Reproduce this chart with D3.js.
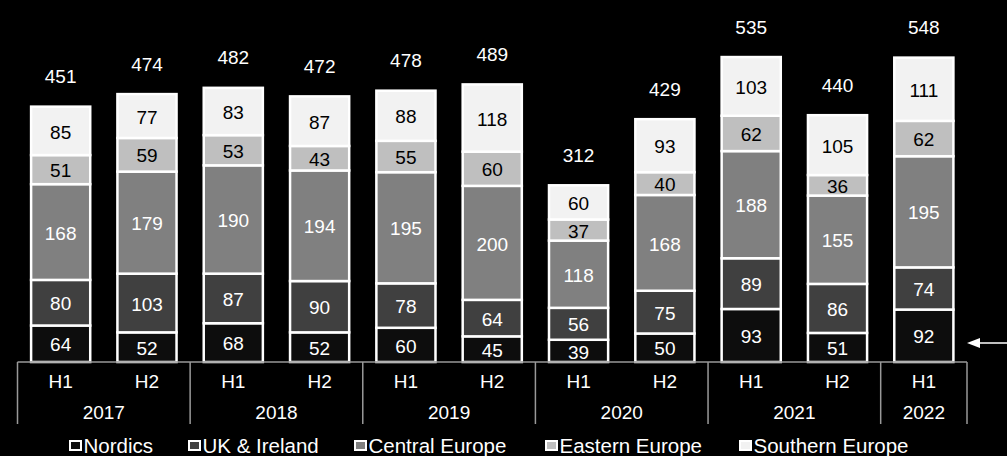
<!DOCTYPE html>
<html>
<head>
<meta charset="utf-8">
<script src="https://cdn.jsdelivr.net/npm/d3@7"></script>
<style>
  html, body { margin: 0; padding: 0; background: #000; }
  svg { display: block; font-family: "Liberation Sans", Arial, sans-serif; }
</style>
</head>
<body>
<svg id="chart" width="1007" height="456"></svg>
<script>
// Data
const halves = ["H1", "H2", "H1", "H2", "H1", "H2", "H1", "H2", "H1", "H2", "H1"];
const years = ["2017", "2017", "2018", "2018", "2019", "2019", "2020", "2020", "2021", "2021", "2022"];
const nordics = [64, 52, 68, 52, 60, 45, 39, 50, 93, 51, 92];
const ukIreland = [80, 103, 87, 90, 78, 64, 56, 75, 89, 86, 74];
const centralEurope = [168, 179, 190, 194, 195, 200, 118, 168, 188, 155, 195];
const easternEurope = [51, 59, 53, 43, 55, 60, 37, 40, 62, 36, 62];
const southernEurope = [85, 77, 83, 87, 88, 118, 60, 93, 103, 105, 111];
const totals = [451, 474, 482, 472, 478, 489, 312, 429, 535, 440, 548];

const seriesNames = ["Nordics", "UK & Ireland", "Central Europe", "Eastern Europe", "Southern Europe"];
const seriesValues = [nordics, ukIreland, centralEurope, easternEurope, southernEurope];
const fills = ["#0d0d0d", "#404040", "#808080", "#bfbfbf", "#f2f2f2"];
const textFills = ["#fff", "#fff", "#fff", "#000", "#000"];

const svg = d3.select("#chart"),
    left = 17.5, right = 967, baseY = 362;

const keys = halves.map((h, i) => i);
const rows = keys.map(i => {
    const r = { i: i };
    seriesNames.forEach((s, k) => r[s] = seriesValues[k][i]);
    return r;
});

const x = d3.scaleBand().domain(keys).range([left, right]).paddingInner(0.315).paddingOuter(0.1575);
const y = d3.scaleLinear().domain([0, 600]).range([baseY, baseY - 342]);

const stack = d3.stack().keys(seriesNames);
const layers = stack(rows);

// Segments
const layer = svg.selectAll(".layer")
    .data(layers)
    .enter().append("g")
    .attr("class", "layer");

layer.selectAll("rect")
    .data((d, k) => d.map(p => ({ p: p, k: k })))
    .enter().append("rect")
    .attr("x", d => x(d.p.data.i))
    .attr("width", x.bandwidth())
    .attr("y", d => y(d.p[1]))
    .attr("height", d => y(d.p[0]) - y(d.p[1]))
    .attr("fill", d => fills[d.k])
    .attr("stroke", "#fff")
    .attr("stroke-width", 2.5);

layer.selectAll("text")
    .data((d, k) => d.map(p => ({ p: p, k: k })))
    .enter().append("text")
    .attr("x", d => x(d.p.data.i) + x.bandwidth() / 2)
    .attr("y", d => (y(d.p[0]) + y(d.p[1])) / 2 + 1)
    .attr("dy", "0.35em")
    .attr("text-anchor", "middle")
    .attr("font-size", 19)
    .attr("fill", d => textFills[d.k])
    .text(d => d.p.data[seriesNames[d.k]]);

// Totals
const topLayer = layers[layers.length - 1];
svg.selectAll(".total")
    .data(topLayer)
    .enter().append("text")
    .attr("class", "total")
    .attr("x", d => x(d.data.i) + x.bandwidth() / 2)
    .attr("y", d => y(d[1]) - 30)
    .attr("dy", "0.35em")
    .attr("text-anchor", "middle")
    .attr("font-size", 19)
    .attr("fill", "#fff")
    .text((d, i) => totals[i]);

// Category axis
const step = x.step();
const edge = i => left + step * i;
svg.append("line")
    .attr("x1", left).attr("x2", right)
    .attr("y1", baseY).attr("y2", baseY)
    .attr("stroke", "#999").attr("stroke-width", 1.5);

svg.selectAll(".half")
    .data(halves)
    .enter().append("text")
    .attr("x", (d, i) => x(i) + x.bandwidth() / 2)
    .attr("y", 381)
    .attr("dy", "0.35em")
    .attr("text-anchor", "middle")
    .attr("font-size", 19)
    .attr("fill", "#fff")
    .text(d => d);

const yearGroups = Array.from(d3.group(keys, i => years[i]), ([yr, idx]) => ({ yr: yr, a: idx[0], b: idx[idx.length - 1] + 1 }));
const seps = [0].concat(yearGroups.map(g => g.b));
svg.selectAll(".sep")
    .data(seps)
    .enter().append("line")
    .attr("x1", d => edge(d)).attr("x2", d => edge(d))
    .attr("y1", baseY).attr("y2", 424)
    .attr("stroke", "#999").attr("stroke-width", 1.5);

svg.selectAll(".year")
    .data(yearGroups)
    .enter().append("text")
    .attr("x", d => (edge(d.a) + edge(d.b)) / 2)
    .attr("y", 412)
    .attr("dy", "0.35em")
    .attr("text-anchor", "middle")
    .attr("font-size", 19)
    .attr("fill", "#fff")
    .text(d => d.yr);

// Legend
const legendX = [69, 188, 354, 545, 739];
const legend = svg.selectAll(".legend")
    .data(seriesNames)
    .enter().append("g")
    .attr("class", "legend")
    .attr("transform", (d, i) => `translate(${legendX[i]},446)`);

legend.append("rect")
    .attr("x", 1).attr("y", -5)
    .attr("width", 11).attr("height", 9)
    .attr("fill", (d, i) => fills[i])
    .attr("stroke", "#fff")
    .attr("stroke-width", 2);

legend.append("text")
    .attr("x", 14.5)
    .attr("dy", "0.35em")
    .attr("font-size", 20.5)
    .attr("fill", "#fff")
    .text(d => d);

// Arrow at right
svg.append("line")
    .attr("x1", 1007).attr("x2", 975)
    .attr("y1", 343).attr("y2", 343)
    .attr("stroke", "#fff").attr("stroke-width", 1.5);
svg.append("path")
    .attr("d", "M967,343 L980,338 L980,348 Z")
    .attr("fill", "#fff");
</script>
</body>
</html>
